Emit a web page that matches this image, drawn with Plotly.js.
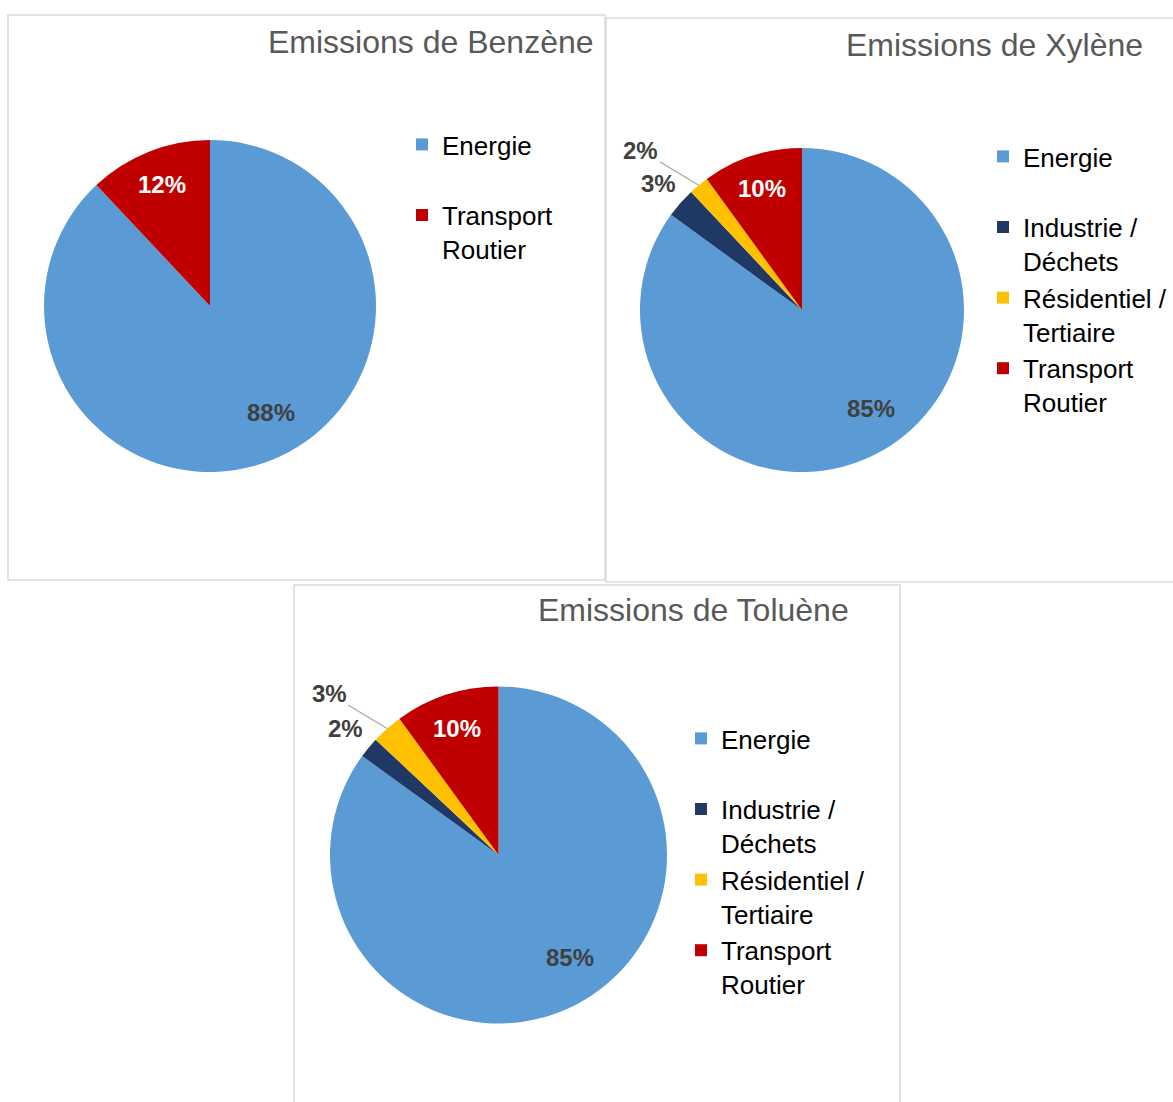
<!DOCTYPE html>
<html><head><meta charset="utf-8">
<script src="https://cdn.plot.ly/plotly-3.0.1.min.js"></script>
<style>html,body{margin:0;padding:0;background:#fff;}#chart{width:1173px;height:1102px;}</style>
</head><body><div id="chart"></div>
<script>
// ---- data ----
const chartTitles = ['Emissions de Benzène', 'Emissions de Xylène', 'Emissions de Toluène'];
const benzeneLabels = ['Energie', 'Transport Routier'];
const benzeneValues = [88, 12];
const xyleneLabels = ['Energie', 'Industrie / Déchets', 'Résidentiel / Tertiaire', 'Transport Routier'];
const xyleneValues = [85, 3, 2, 10];
const tolueneLabels = ['Energie', 'Industrie / Déchets', 'Résidentiel / Tertiaire', 'Transport Routier'];
const tolueneValues = [85, 2, 3, 10];

// ---- styles ----
const W = 1173, H = 1102;
const FONT = 'Liberation Sans, Arial, sans-serif';
const sectorColors = {
  'Energie': '#5B9BD5',
  'Industrie / Déchets': '#203864',
  'Résidentiel / Tertiaire': '#FFC000',
  'Transport Routier': '#C00000'
};
const legendText = {
  'Energie': 'Energie<br>&nbsp;',
  'Industrie / Déchets': 'Industrie /<br>Déchets',
  'Résidentiel / Tertiaire': 'Résidentiel /<br>Tertiaire',
  'Transport Routier': 'Transport<br>Routier'
};
function dom(cx, cy, r) {
  return {x: [(cx - r) / W, (cx + r) / W], y: [1 - (cy + r) / H, 1 - (cy - r) / H]};
}
function pieTrace(labels, values, geo, legendId, k) {
  return {
    type: 'pie',
    // zero-width suffix keeps legend entries separate per chart
    labels: labels.map(l => legendText[l] + '\u200B'.repeat(k)),
    values: values,
    sort: false,
    direction: 'clockwise',
    rotation: 0,
    domain: dom(geo.cx, geo.cy, geo.r),
    legend: legendId,
    marker: {colors: labels.map(l => sectorColors[l]), line: {width: 0}},
    textinfo: 'none',
    hoverinfo: 'label+percent',
    automargin: false
  };
}
// percentage labels placed from the slice angles computed from the values
function sliceLabels(labels, values, geo) {
  const total = values.reduce((a, b) => a + b, 0);
  let cum = 0;
  const out = [];
  values.forEach((v, i) => {
    const frac = v / total;
    let mid = (cum + frac / 2) * 2 * Math.PI;
    cum += frac;
    const txt = Math.round(frac * 100) + '%';
    const base = {text: '<b>' + txt + '</b>', xref: 'paper', yref: 'paper',
      xanchor: 'center', yanchor: 'middle',
      font: {family: FONT, size: 24, color: '#404040'}};
    if (frac >= 0.05) {
      let f = 0.79;
      if (frac >= 0.5) { f = 0.74; mid -= 8 * Math.PI / 180; }
      const sx = Math.sin(mid), sy = -Math.cos(mid);
      out.push(Object.assign(base, {
        x: (geo.cx + f * geo.r * sx) / W, y: 1 - (geo.cy + f * geo.r * sy) / H,
        showarrow: false,
        font: {family: FONT, size: 24, color: labels[i] === 'Transport Routier' ? '#FFFFFF' : '#404040'}
      }));
    } else if (i > 0 && values[i - 1] / total < 0.05) {
      const sx = Math.sin(mid), sy = -Math.cos(mid);
      out.push(Object.assign(base, {
        x: (geo.cx + geo.r * sx) / W, y: 1 - (geo.cy + geo.r * sy) / H,
        showarrow: true, ax: -58, ay: -35, arrowhead: 0, arrowwidth: 1.2,
        arrowcolor: '#A6A6A6', standoff: 0, startstandoff: 0
      }));
    } else {
      const f = 1.18;
      const sx = Math.sin(mid), sy = -Math.cos(mid);
      out.push(Object.assign(base, {
        x: (geo.cx + f * geo.r * sx) / W, y: 1 - (geo.cy + f * geo.r * sy) / H,
        showarrow: false
      }));
    }
  });
  return out;
}
function legendCfg(x, yTop) {
  return {
    x: x / W, y: 1 - yTop / H, xanchor: 'left', yanchor: 'top',
    font: {family: FONT, size: 26, color: '#000000'},
    valign: 'top', bgcolor: 'rgba(0,0,0,0)', borderwidth: 0, itemwidth: 30,
    traceorder: 'normal'
  };
}
function box(x0, y0, x1, y1) {
  return {type: 'rect', xref: 'paper', yref: 'paper',
    x0: x0 / W, x1: x1 / W, y0: 1 - y1 / H, y1: 1 - y0 / H,
    line: {color: '#D9D9D9', width: 1.5}, fillcolor: 'rgba(0,0,0,0)', layer: 'below'};
}
function title(text, xr, yc) {
  return {text: text, xref: 'paper', yref: 'paper', x: xr / W, y: 1 - yc / H,
    xanchor: 'right', yanchor: 'middle', showarrow: false,
    font: {family: FONT, size: 32, color: '#595959'}};
}

const geoB = {cx: 210, cy: 306, r: 166};
const geoX = {cx: 802, cy: 310, r: 162};
const geoT = {cx: 498.5, cy: 855, r: 168.5};

const data = [
  pieTrace(benzeneLabels, benzeneValues, geoB, 'legend', 0),
  pieTrace(xyleneLabels, xyleneValues, geoX, 'legend2', 1),
  pieTrace(tolueneLabels, tolueneValues, geoT, 'legend3', 2)
];

const layout = {
  width: W, height: H,
  margin: {l: 0, r: 0, t: 0, b: 0, autoexpand: false},
  paper_bgcolor: '#FFFFFF', plot_bgcolor: '#FFFFFF',
  showlegend: true,
  legend: legendCfg(402, 121),
  legend2: legendCfg(983, 133),
  legend3: legendCfg(681, 715),
  shapes: [box(8, 15, 605, 580), box(606, 18, 1180, 582), box(294, 585, 900, 1110)],
  annotations: [
    title(chartTitles[0], 596, 42),
    title(chartTitles[1], 1145, 45),
    title(chartTitles[2], 851, 610)
  ].concat(sliceLabels(benzeneLabels, benzeneValues, geoB))
   .concat(sliceLabels(xyleneLabels, xyleneValues, geoX))
   .concat(sliceLabels(tolueneLabels, tolueneValues, geoT))
};

Plotly.newPlot('chart', data, layout, {displayModeBar: false, responsive: false});
</script>
</body></html>
